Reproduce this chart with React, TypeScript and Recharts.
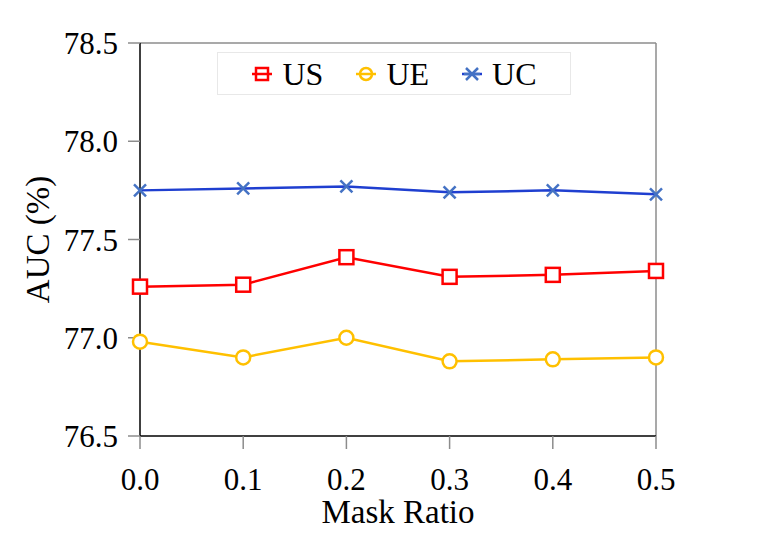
import React from 'react';
import { LineChart, Line, XAxis, YAxis, Legend, ReferenceLine, Label } from 'recharts';

const xValues = [0.0, 0.1, 0.2, 0.3, 0.4, 0.5];
const usValues = [77.26, 77.27, 77.41, 77.31, 77.32, 77.34];
const ueValues = [76.98, 76.9, 77.0, 76.88, 76.89, 76.9];
const ucValues = [77.75, 77.76, 77.77, 77.74, 77.75, 77.73];
const xTicks = [0.0, 0.1, 0.2, 0.3, 0.4, 0.5];
const yTicks = [76.5, 77.0, 77.5, 78.0, 78.5];
const seriesOrder = ['US', 'UE', 'UC'];

const data = xValues.map((x, i) => ({ x, US: usValues[i], UE: ueValues[i], UC: ucValues[i] }));

const FONT = "'Liberation Serif', 'Times New Roman', serif";

const seriesStyle: Record<string, { line: string; marker: string; shape: string }> = {
  US: { line: '#FF0000', marker: '#FF0000', shape: 'square' },
  UE: { line: '#FFC000', marker: '#FFC000', shape: 'circle' },
  UC: { line: '#1F3FD0', marker: '#4472C4', shape: 'cross' },
};

function Marker({ cx, cy, shape, color }: { cx: number; cy: number; shape: string; color: string }) {
  if (shape === 'square') {
    return <rect x={cx - 7} y={cy - 7} width={14} height={14} fill="#fff" stroke={color} strokeWidth={2.5} />;
  }
  if (shape === 'circle') {
    return <circle cx={cx} cy={cy} r={7} fill="#fff" stroke={color} strokeWidth={2.5} />;
  }
  return (
    <g stroke={color} strokeWidth={2.5}>
      <line x1={cx - 6} y1={cy - 6} x2={cx + 6} y2={cy + 6} />
      <line x1={cx - 6} y1={cy + 6} x2={cx + 6} y2={cy - 6} />
    </g>
  );
}

const makeDot = (key: string) => (props: any) => {
  const { cx, cy, index } = props;
  const s = seriesStyle[key];
  return <Marker key={`${key}-${index}`} cx={cx} cy={cy} shape={s.shape} color={s.marker} />;
};

const LegendContent = (props: any) => {
  const payload = [...(props.payload || [])].sort(
    (a: any, b: any) => seriesOrder.indexOf(a.dataKey) - seriesOrder.indexOf(b.dataKey)
  );
  return (
    <div
      style={{
        width: 352,
        height: 41,
        border: '1px solid #e8e8e8',
        background: '#fff',
        display: 'flex',
        alignItems: 'center',
        justifyContent: 'center',
        fontFamily: FONT,
        fontSize: 32,
        color: '#000',
      }}
    >
      {payload.map((p: any, i: number) => {
        const s = seriesStyle[p.dataKey];
        return (
          <div key={p.value} style={{ display: 'flex', alignItems: 'center', marginLeft: i === 0 ? 0 : 32 }}>
            <svg width={22} height={22} style={{ marginRight: 9 }}>
              <line x1={1} y1={11} x2={21} y2={11} stroke={s.line} strokeWidth={2.5} />
              {s.shape === 'cross' ? (
                <g stroke={s.marker} strokeWidth={2.5}>
                  <line x1={5} y1={5} x2={17} y2={17} />
                  <line x1={5} y1={17} x2={17} y2={5} />
                  <line x1={3} y1={11} x2={19} y2={11} />
                </g>
              ) : s.shape === 'square' ? (
                <rect x={5} y={5} width={12} height={12} fill="none" stroke={s.marker} strokeWidth={2.5} />
              ) : (
                <circle cx={11} cy={11} r={6} fill="none" stroke={s.marker} strokeWidth={2.5} />
              )}
            </svg>
            <span style={{ lineHeight: '32px' }}>{p.value}</span>
          </div>
        );
      })}
    </div>
  );
};

export default function App() {
  return (
    <div style={{ position: 'absolute', left: 0, top: 0, width: 761, height: 538, background: '#fff', fontFamily: FONT }}>
      <LineChart width={761} height={538} data={data} margin={{ top: 43, right: 105, bottom: 0, left: 0 }}>
        <XAxis
          dataKey="x"
          type="number"
          domain={[0, 0.5]}
          ticks={xTicks}
          tickFormatter={(v: number) => v.toFixed(1)}
          height={102}
          tickSize={13}
          tickMargin={19}
          axisLine={{ stroke: '#000', strokeWidth: 1.5 }}
          tickLine={{ stroke: '#8c8c8c', strokeWidth: 1.5 }}
          tick={{ fontSize: 31, fill: '#000', fontFamily: FONT }}
        >
          <Label
            content={(p: any) => {
              const vb = p.viewBox || {};
              return (
                <text x={vb.x + vb.width / 2} y={523} textAnchor="middle" fontSize={33} fontFamily={FONT} fill="#000">
                  Mask Ratio
                </text>
              );
            }}
          />
        </XAxis>
        <YAxis
          type="number"
          domain={[76.5, 78.5]}
          ticks={yTicks}
          tickFormatter={(v: number) => v.toFixed(1)}
          width={140}
          tickSize={12}
          tickMargin={10}
          allowDataOverflow
          axisLine={{ stroke: '#000', strokeWidth: 1.5 }}
          tickLine={{ stroke: '#8c8c8c', strokeWidth: 1.5 }}
          tick={{ fontSize: 31, fill: '#000', fontFamily: FONT }}
        >
          <Label
            content={(p: any) => {
              const vb = p.viewBox || {};
              const cx = 38;
              const cy = vb.y + vb.height / 2;
              return (
                <text
                  x={cx}
                  y={cy}
                  transform={`rotate(-90 ${cx} ${cy})`}
                  textAnchor="middle"
                  dominantBaseline="central"
                  fontSize={33}
                  fontFamily={FONT}
                  fill="#000"
                >
                  AUC (%)
                </text>
              );
            }}
          />
        </YAxis>
        <Legend
          content={LegendContent}
          layout="horizontal"
          verticalAlign="middle"
          align="center"
          wrapperStyle={{ position: 'absolute', left: 217, top: 52, width: 354, height: 43 }}
        />
        {seriesOrder.map((k) => (
          <Line
            key={k}
            dataKey={k}
            name={k}
            stroke={seriesStyle[k].line}
            strokeWidth={2.5}
            dot={makeDot(k)}
            activeDot={false}
            isAnimationActive={false}
          />
        ))}
        <ReferenceLine y={78.5} stroke="#8c8c8c" strokeWidth={1.5} />
        <ReferenceLine x={0.5} stroke="#8c8c8c" strokeWidth={1.5} />
      </LineChart>
    </div>
  );
}
